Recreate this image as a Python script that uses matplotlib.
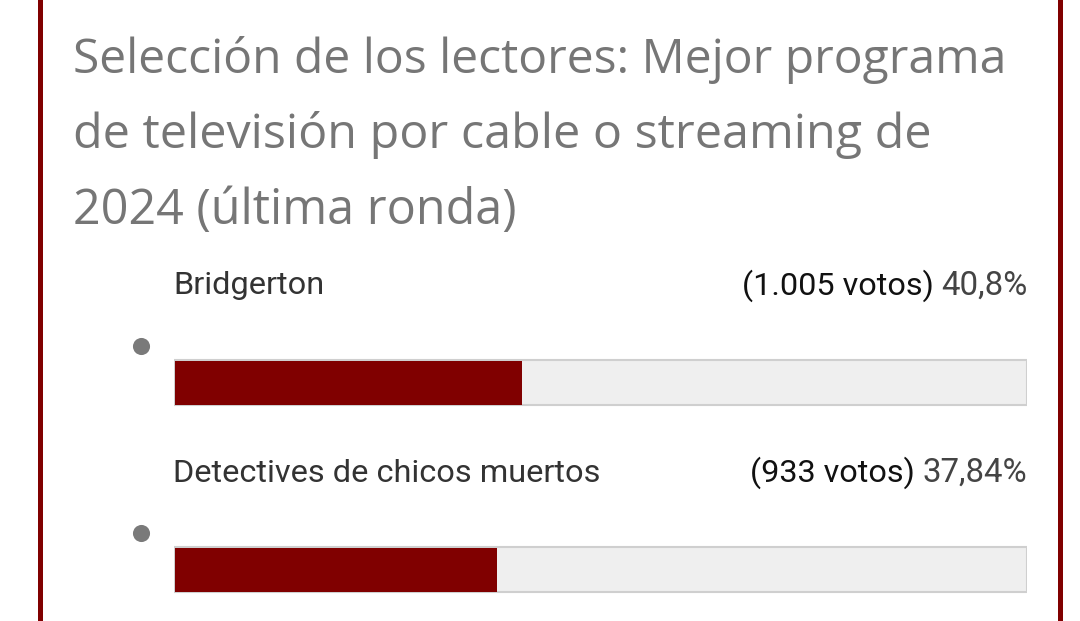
import matplotlib
matplotlib.use("Agg")
import matplotlib.pyplot as plt
from matplotlib.patches import Rectangle

W, H = 1080, 621
title_lines = ["Selección de los lectores: Mejor programa",
               "de televisión por cable o streaming de",
               "2024 (última ronda)"]
options = ["Bridgerton", "Detectives de chicos muertos"]
votes = ["(1.005 votos)", "(933 votos)"]
pct_labels = ["40,8%", "37,84%"]
pct = [40.8, 37.84]

DARK = "#800000"
fig = plt.figure(figsize=(W/100, H/100), dpi=100, facecolor="white")

def fx(p): return p / W
def fy(p): return 1 - p / H

ROW = 187.0
Y0 = 382.5
ax = fig.add_axes([fx(174), 0, 853/W, 1])
ax.set_xlim(0, 100)
ax.set_ylim((H - Y0) / ROW, (0 - Y0) / ROW)
ax.axis("off")
ypos = list(range(len(options)))
bar_h = 45 / ROW
ax.barh(ypos, [100]*len(ypos), height=bar_h, color="#efefef", edgecolor="#cfcfcf", linewidth=1.5, zorder=1)
ax.barh([y + 0.7/ROW for y in ypos], [p - 0.06 for p in pct], left=0.06, height=bar_h - 0.5/ROW, color=DARK, linewidth=0, zorder=2)

# frame lines
for x0 in (38, 1058):
    fig.add_artist(Rectangle((fx(x0), 0), 5/W, 1, transform=fig.transFigure, color=DARK, lw=0))

# title
for line, yb, fs in zip(title_lines, [72.5, 148.5, 223.5], [34.6, 34.85, 34.95]):
    fig.text(fx(73), fy(yb), line, family="Open Sans", fontsize=fs, color="#767676", va="baseline", ha="left")

for i, (o, v, p) in enumerate(zip(options, votes, pct_labels)):
    yb = 294.5 + ROW * i
    fig.text(fx(173), fy(yb), o, family="Roboto", fontsize=23.4, color="#333333", va="baseline")
    t = fig.text(fx(1027.5), fy(yb), p, family="Roboto", fontsize=23.8, color="#444444", va="baseline", ha="right")
    fig.canvas.draw()
    bb = t.get_window_extent()
    fig.text((bb.x0 - 7.5) / W, fy(yb), v, family="Roboto", fontsize=23.3, color="#111111", va="baseline", ha="right")
    cy = 346 + ROW * i
    fig.add_artist(plt.Line2D([fx(140.5)], [fy(cy)], marker="o", ms=12.3, color="#7a7a7a", mew=0, transform=fig.transFigure))

fig.savefig("out.png", dpi=100)
